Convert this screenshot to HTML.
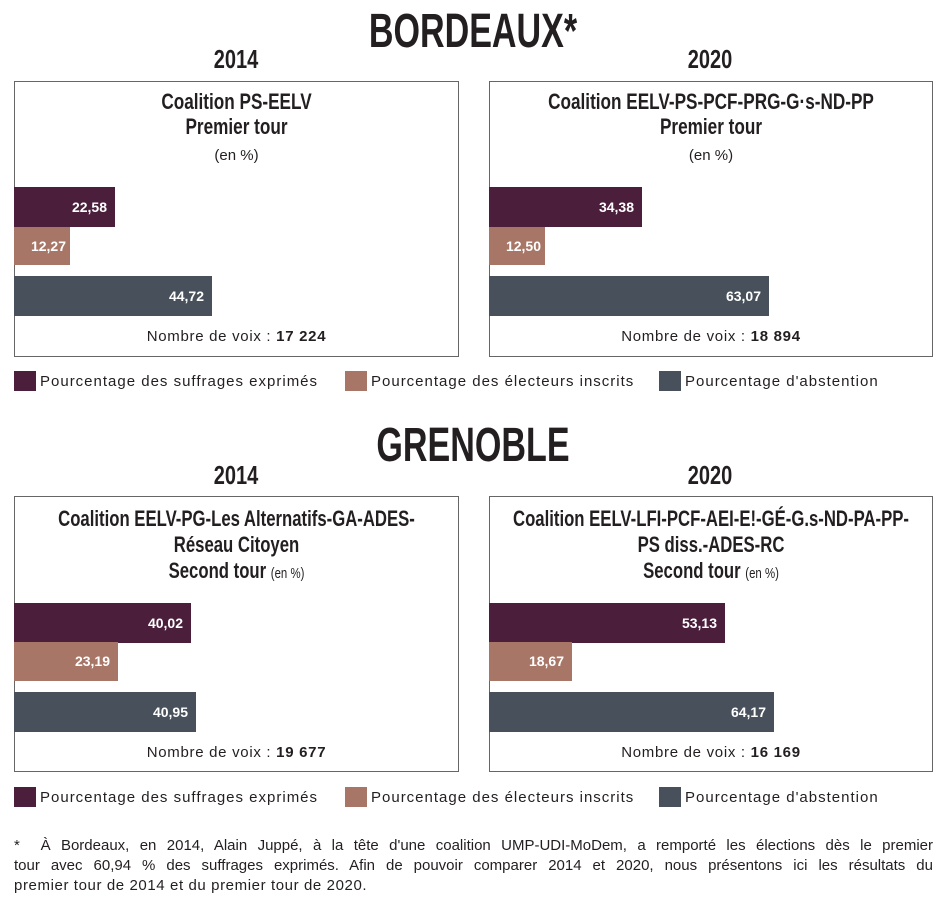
<!DOCTYPE html>
<html><head><meta charset="utf-8"><style>
body{margin:0;width:946px;height:898px;background:#fff;position:relative;overflow:hidden;font-family:"Liberation Sans",sans-serif;color:#231f20}
div{position:absolute;box-sizing:border-box}
.cond{font-family:"Liberation Sans Narrow","Liberation Sans",sans-serif;font-weight:bold;white-space:nowrap;text-align:center;transform-origin:center top}
.box{border:1.5px solid #666;background:#fff}
.b{height:40px;color:#fff;font-weight:bold;font-size:14px;line-height:40px;text-align:right;padding-right:8px}
.p{background:#4b1f3c}.t{background:#a87666}.s{background:#48515b}
.sq{width:22px;height:20px}
.lg{font-size:15px;white-space:nowrap;letter-spacing:1px}
.en{font-family:"Liberation Sans",sans-serif;font-weight:normal;font-size:15px}
.nv{font-size:15px;text-align:center;white-space:nowrap;letter-spacing:0.7px}
.fn{left:14px;width:919px;font-size:15px;line-height:20.5px;text-align:justify;text-align-last:justify;white-space:nowrap}
</style></head><body>
<div class="cond" style="left:0;width:946px;top:4px;font-size:48px;transform:scaleX(0.71)">BORDEAUX*</div>
<div class="cond" style="left:136px;width:200px;top:44px;font-size:26px;transform:scaleX(0.77)">2014</div>
<div class="cond" style="left:610px;width:200px;top:44px;font-size:26px;transform:scaleX(0.77)">2020</div>

<div class="box" style="left:14px;top:81px;width:445px;height:276px"></div>
<div class="cond" style="left:-86px;width:645px;top:89px;font-size:22px;line-height:25px;transform:scaleX(0.78)">Coalition PS-EELV<br>Premier tour</div>
<div class="en" style="left:14px;width:445px;top:147px;text-align:center">(en %)</div>
<div class="b p" style="left:14px;top:187px;width:101px">22,58</div>
<div class="b t" style="left:14px;top:227px;width:56px;height:38px;line-height:38px;padding-right:4px">12,27</div>
<div class="b s" style="left:14px;top:276px;width:198px">44,72</div>
<div class="nv" style="left:14px;width:445px;top:328px">Nombre de voix : <b>17 224</b></div>

<div class="box" style="left:489px;top:81px;width:444px;height:276px"></div>
<div class="cond" style="left:389px;width:644px;top:89px;font-size:22px;line-height:25px;transform:scaleX(0.78)">Coalition EELV-PS-PCF-PRG-G·s-ND-PP<br>Premier tour</div>
<div class="en" style="left:489px;width:444px;top:147px;text-align:center">(en %)</div>
<div class="b p" style="left:489px;top:187px;width:153px">34,38</div>
<div class="b t" style="left:489px;top:227px;width:56px;height:38px;line-height:38px;padding-right:4px">12,50</div>
<div class="b s" style="left:489px;top:276px;width:280px">63,07</div>
<div class="nv" style="left:489px;width:444px;top:328px">Nombre de voix : <b>18 894</b></div>

<div class="sq p" style="left:14px;top:371px"></div><div class="lg" style="left:40px;top:373px">Pourcentage des suffrages exprimés</div>
<div class="sq t" style="left:345px;top:371px"></div><div class="lg" style="left:371px;top:373px">Pourcentage des électeurs inscrits</div>
<div class="sq s" style="left:659px;top:371px"></div><div class="lg" style="left:685px;top:373px">Pourcentage d'abstention</div>

<div class="cond" style="left:0;width:946px;top:418px;font-size:48px;transform:scaleX(0.71)">GRENOBLE</div>
<div class="cond" style="left:136px;width:200px;top:460px;font-size:26px;transform:scaleX(0.77)">2014</div>
<div class="cond" style="left:610px;width:200px;top:460px;font-size:26px;transform:scaleX(0.77)">2020</div>

<div class="box" style="left:14px;top:496px;width:445px;height:276px"></div>
<div class="cond" style="left:-86px;width:645px;top:506px;font-size:22px;line-height:26px;transform:scaleX(0.76)">Coalition EELV-PG-Les Alternatifs-GA-ADES-<br>Réseau Citoyen<br>Second tour <span class="en">(en %)</span></div>
<div class="b p" style="left:14px;top:603px;width:177px">40,02</div>
<div class="b t" style="left:14px;top:642px;width:104px;height:39px;line-height:39px">23,19</div>
<div class="b s" style="left:14px;top:692px;width:182px">40,95</div>
<div class="nv" style="left:14px;width:445px;top:744px">Nombre de voix : <b>19 677</b></div>

<div class="box" style="left:489px;top:496px;width:444px;height:276px"></div>
<div class="cond" style="left:389px;width:644px;top:506px;font-size:22px;line-height:26px;transform:scaleX(0.76)">Coalition EELV-LFI-PCF-AEI-E!-GÉ-G.s-ND-PA-PP-<br>PS diss.-ADES-RC<br>Second tour <span class="en">(en %)</span></div>
<div class="b p" style="left:489px;top:603px;width:236px">53,13</div>
<div class="b t" style="left:489px;top:642px;width:83px;height:39px;line-height:39px">18,67</div>
<div class="b s" style="left:489px;top:692px;width:285px">64,17</div>
<div class="nv" style="left:489px;width:444px;top:744px">Nombre de voix : <b>16 169</b></div>

<div class="sq p" style="left:14px;top:787px"></div><div class="lg" style="left:40px;top:789px">Pourcentage des suffrages exprimés</div>
<div class="sq t" style="left:345px;top:787px"></div><div class="lg" style="left:371px;top:789px">Pourcentage des électeurs inscrits</div>
<div class="sq s" style="left:659px;top:787px"></div><div class="lg" style="left:685px;top:789px">Pourcentage d'abstention</div>

<div class="fn" style="top:836px">*&nbsp; À Bordeaux, en 2014, Alain Juppé, à la tête d'une coalition UMP-UDI-MoDem, a remporté les élections dès le premier</div>
<div class="fn" style="top:856px">tour avec 60,94 % des suffrages exprimés. Afin de pouvoir comparer 2014 et 2020, nous présentons ici les résultats du</div>
<div class="fn" style="top:876px;text-align-last:left;letter-spacing:0.6px">premier tour de 2014 et du premier tour de 2020.</div>
</body></html>
